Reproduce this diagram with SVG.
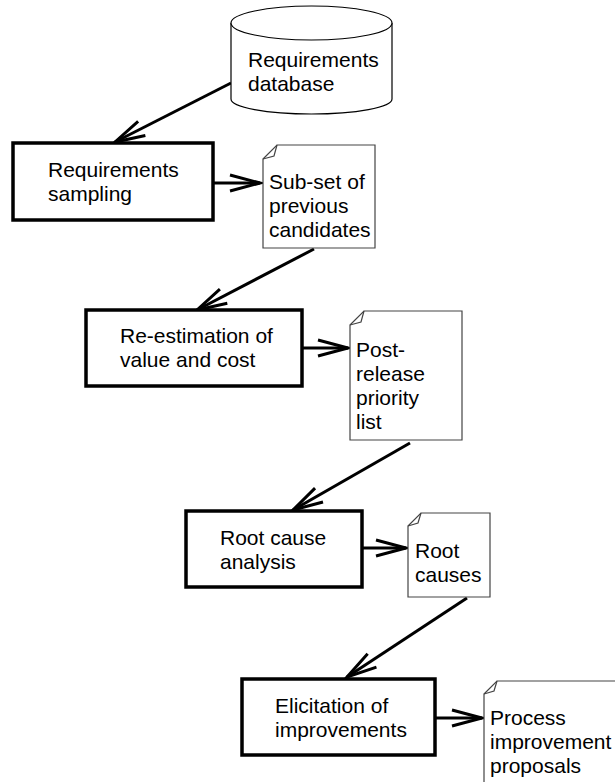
<svg xmlns="http://www.w3.org/2000/svg" width="615" height="782" viewBox="0 0 615 782">
  <style>
    text { font-family: "Liberation Sans", Arial, sans-serif; font-size: 21px; fill: #000; }
    .proc { fill: #fff; stroke: #000; stroke-width: 3.5; }
    .doc { fill: #fff; stroke: #444; stroke-width: 1.2; stroke-linejoin: miter; }
    .fold { fill: none; stroke: #444; stroke-width: 1.2; }
    .db { fill: #fff; stroke: #000; stroke-width: 1.2; }
    .flow { fill: none; stroke: #000; stroke-width: 3; marker-end: url(#open); }
  </style>
  <defs>
    <marker id="open" markerUnits="userSpaceOnUse" viewBox="-34 -12 38 24" refX="0" refY="0" markerWidth="38" markerHeight="24" orient="auto">
      <path d="M -30 -8 L 0 0 L -30 8" fill="none" stroke="#000" stroke-width="3"/>
    </marker>
  </defs>
  <rect width="615" height="782" fill="#fff"/>

  <g id="connectors">
    <line class="flow" x1="231" y1="83" x2="115" y2="142"/>
    <line class="flow" x1="213" y1="183" x2="260" y2="183"/>
    <line class="flow" x1="314" y1="249" x2="197" y2="310"/>
    <line class="flow" x1="302" y1="348" x2="348" y2="348"/>
    <line class="flow" x1="410" y1="443" x2="293" y2="510"/>
    <line class="flow" x1="362" y1="548" x2="406" y2="548"/>
    <line class="flow" x1="467" y1="598" x2="347" y2="677"/>
    <line class="flow" x1="435" y1="718" x2="482" y2="718"/>
  </g>

  <g id="requirements-database">
    <path class="db" d="M 231 23 L 231 99 A 80.5 15 0 0 0 392 99 L 392 23 A 80.5 17 0 0 0 231 23 Z"/>
    <path class="db" fill="none" d="M 231 23 A 80.5 17 0 0 0 392 23"/>
    <text x="248" y="67">Requirements</text>
    <text x="248" y="91">database</text>
  </g>

  <g id="requirements-sampling">
    <rect class="proc" x="13" y="143" width="200" height="77"/>
    <text x="48" y="177">Requirements</text>
    <text x="48" y="201">sampling</text>
  </g>

  <g id="subset-candidates">
    <path class="doc" d="M 263 159 L 277 145 L 375 145 L 375 248 L 263 248 Z"/>
    <path class="fold" d="M 277 145 L 274 156 L 263 159"/>
    <text x="269" y="189">Sub-set of</text>
    <text x="269" y="213">previous</text>
    <text x="269" y="237">candidates</text>
  </g>

  <g id="re-estimation">
    <rect class="proc" x="86" y="310" width="216" height="76"/>
    <text x="120" y="343">Re-estimation of</text>
    <text x="120" y="367">value and cost</text>
  </g>

  <g id="priority-list">
    <path class="doc" d="M 350 325 L 364 311 L 462 311 L 462 440 L 350 440 Z"/>
    <path class="fold" d="M 364 311 L 361 322 L 350 325"/>
    <text x="356" y="357">Post-</text>
    <text x="356" y="381">release</text>
    <text x="356" y="405">priority</text>
    <text x="356" y="429">list</text>
  </g>

  <g id="root-cause-analysis">
    <rect class="proc" x="186" y="511" width="176" height="76"/>
    <text x="220" y="545">Root cause</text>
    <text x="220" y="569">analysis</text>
  </g>

  <g id="root-causes">
    <path class="doc" d="M 408 526 L 421 513 L 490 513 L 490 597 L 408 597 Z"/>
    <path class="fold" d="M 421 513 L 418 523 L 408 526"/>
    <text x="415" y="558">Root</text>
    <text x="415" y="582">causes</text>
  </g>

  <g id="elicitation">
    <rect class="proc" x="242" y="679" width="193" height="76"/>
    <text x="275" y="713">Elicitation of</text>
    <text x="275" y="737">improvements</text>
  </g>

  <g id="improvement-proposals">
    <path class="doc" d="M 484 694 L 497 681 L 640 681 L 640 800 L 484 800 Z"/>
    <path class="fold" d="M 497 681 L 494 691 L 484 694"/>
    <text x="490" y="725">Process</text>
    <text x="490" y="749">improvement</text>
    <text x="490" y="773">proposals</text>
  </g>
</svg>
